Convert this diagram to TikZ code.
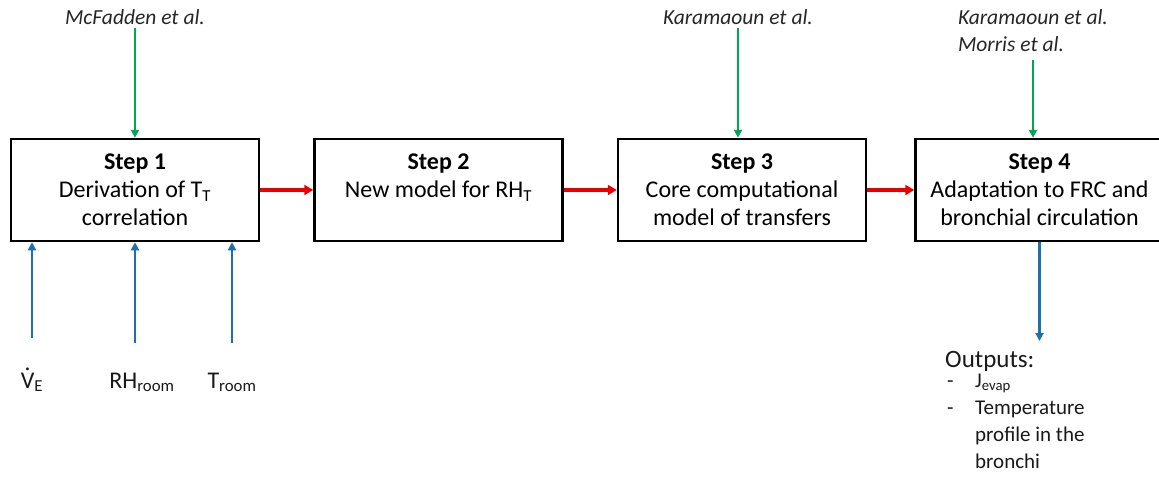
\documentclass[tikz,border=0pt]{standalone}
\usepackage{fontspec}
\setmainfont{Carlito}
\usetikzlibrary{calc,arrows.meta,positioning}

\definecolor{refgreen}{RGB}{0,166,81}
\definecolor{inblue}{RGB}{31,111,174}
\definecolor{flowred}{RGB}{232,0,0}

\newcommand{\vdotflow}{\accent"02D9 V}

\tikzset{
    stepbox/.style={draw, line width=2.5pt, minimum width=248pt, minimum height=102pt,
        inner sep=2pt, align=center, font=\fontsize{24}{28}\selectfont},
    flow/.style={flowred, line width=3.5pt, -{Triangle[length=9pt,width=10pt]}},
    refarrow/.style={refgreen, line width=2.2pt, -{Triangle[length=8pt,width=8pt]}},
    inarrow/.style={inblue, line width=2.2pt, -{Triangle[length=8pt,width=8pt]}},
    reftext/.style={font=\fontsize{21.5}{27}\selectfont\itshape, text=black!85},
    invar/.style={anchor=base, font=\fontsize{24}{28}\selectfont, text=black!90},
}

\begin{document}
\begin{tikzpicture}[x=1pt,y=-1pt]
    \useasboundingbox (0,0) rectangle (1159,485);

    % the four steps
    \node[stepbox] (s1) at (135,190) {\textbf{Step 1}\\Derivation of T\textsubscript{T}\\correlation};
    \node[stepbox, right=53pt of s1] (s2) {\textbf{Step 2}\\New model for RH\textsubscript{T}\\\mbox{}};
    \node[stepbox, right=53pt of s2] (s3) {\textbf{Step 3}\\Core computational\\model of transfers};
    \node[stepbox, right=47pt of s3] (s4) {\textbf{Step 4}\\Adaptation to FRC and\\bronchial circulation};

    \draw[flow] (s1) -- (s2);
    \draw[flow] (s2) -- (s3);
    \draw[flow] (s3) -- (s4);

    % literature
    \node[reftext] (r1) at (135,17) {McFadden et al.};
    \node[reftext] (r3) at (738,17) {Karamaoun et al.};
    \node[reftext, align=left] (r4) at (1033,31) {Karamaoun et al.\\Morris et al.};
    \draw[refarrow] (r1) -- (s1);
    \draw[refarrow] (r3) -- (r3 |- s3.north);
    \draw[refarrow, shorten <=4pt] (r4) -- (r4 |- s4.north);

    % inputs
    \node[invar] (ve) at (32,388) {\vdotflow\textsubscript{E}};
    \node[invar] (rh) at (142,388) {RH\textsubscript{room}};
    \node[invar] (troom) at (232,388) {T\textsubscript{room}};
    \draw[inarrow, shorten <=26pt] (ve.north) -- (ve.north |- s1.south);
    \draw[inarrow, shorten <=26pt] (s1.south |- rh.north) -- (s1.south);
    \draw[inarrow, shorten <=26pt] (troom.north) -- (troom.north |- s1.south);

    % outputs
    \node[anchor=north west, align=left, inner sep=0pt, text=black!90] (out) at (945,351)
        {{\fontsize{25}{28}\selectfont Outputs:}\\[-4pt]
         {\fontsize{21}{27}\selectfont\begin{tabular}{@{}p{30pt}@{}l@{}}
            \hspace{2pt}- & J\textsubscript{evap}\\
            \hspace{2pt}- & Temperature\\
                          & profile in the\\
                          & bronchi
         \end{tabular}}};
    \draw[inarrow, shorten >=10pt] (s4.south) -- (s4.south |- out.north);
\end{tikzpicture}
\end{document}
